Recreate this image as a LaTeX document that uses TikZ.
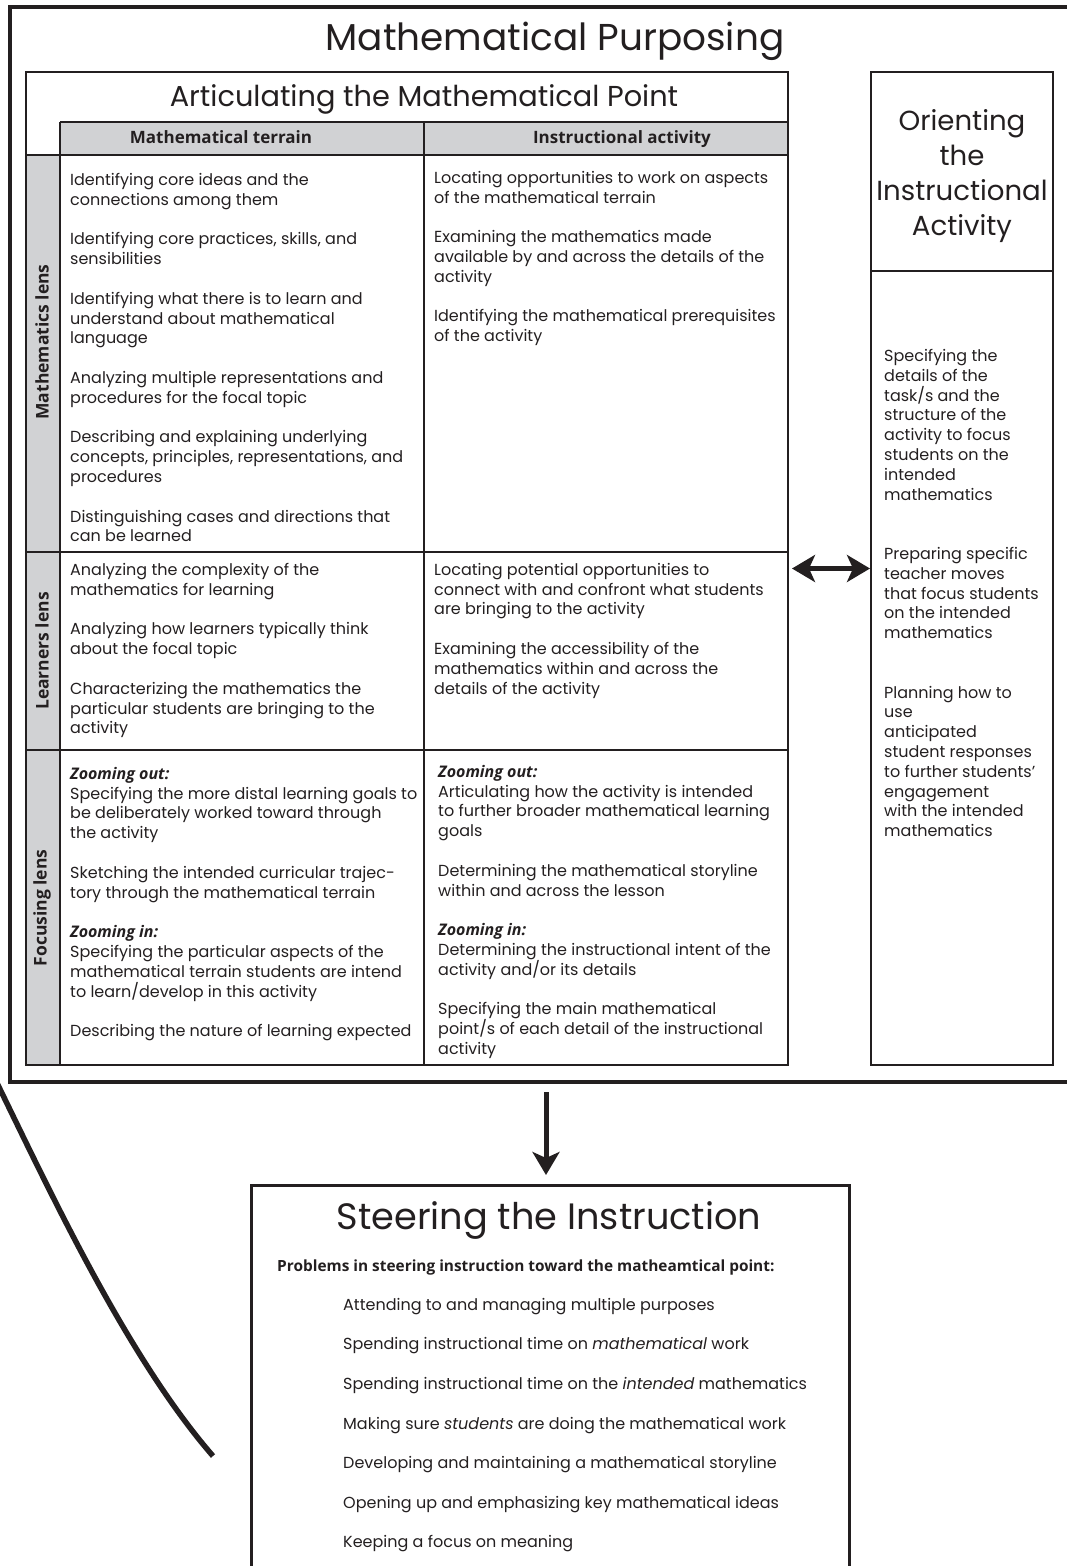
\documentclass[tikz,border=0pt]{standalone}
\usepackage{fontspec}
\setmainfont{Poppins}
\newfontfamily\hdfont{Open Sans}
\usetikzlibrary{arrows.meta}
\definecolor{cellgray}{HTML}{D1D2D4}
\definecolor{ink}{HTML}{231F20}
\newcommand\gp{\\[19.8pt]}
\newcommand\ggp{\\[39.6pt]}
\newcommand\zo[1]{{\hdfont\bfseries\itshape #1}}
\tikzset{bigtip/.tip={Stealth[length=23pt,width=27pt,inset=6pt]}}
\begin{document}
\begin{tikzpicture}[x=1pt,y=-1pt,
  every node/.style={text=ink},
  body/.style={anchor=north west, inner sep=0pt, align=left, font=\fontsize{16}{19.8}\selectfont},
  boxline/.style={draw=ink, line width=1.4pt},
  heavy/.style={draw=ink, line width=4pt},
  hdr/.style={font=\hdfont\bfseries\fontsize{17}{20}\selectfont, inner sep=0pt, anchor=base},
  lens/.style={font=\hdfont\bfseries\fontsize{17.5}{20}\selectfont, inner sep=0pt, rotate=90},
  big/.style={inner sep=0pt, align=center},
  arr/.style={draw=ink, line width=5pt}
]
\useasboundingbox (0,0) rectangle (1067,1566);
\clip (0,0) rectangle (1067,1566);

% outer frame
\node (frame) [heavy, minimum width=1062pt, minimum height=1075pt, inner sep=0pt, outer sep=0pt] at (541,544.5) {};
\node (title) [big, font=\fontsize{37.4}{40}\selectfont] at (555,41) {Mathematical Purposing};

% articulating table
\fill[cellgray] (60,122) rectangle (788,155);
\fill[cellgray] (26,155) rectangle (60,1065);
\node (art) [boxline, minimum width=762pt, minimum height=993pt, inner sep=0pt, outer sep=0pt] at (407,568.5) {};
\draw[boxline] (60,122) -- (788,122);
\draw[boxline] (26,155) -- (788,155);
\draw[boxline] (60,122) -- (60,1065);
\draw[boxline] (424,122) -- (424,1065);
\draw[boxline] (26,552) -- (788,552);
\draw[boxline] (26,750) -- (788,750);
\node (arttitle) [big, font=\fontsize{28.8}{32}\selectfont] at (424,99) {Articulating the Mathematical Point};
\node (hterrain) [hdr] at (221,143) {Mathematical terrain};
\node (hactivity) [hdr] at (622,143) {Instructional activity};
\node (lmath) [lens] at (42,342) {Mathematics lens};
\node (llearn) [lens] at (42,651) {Learners lens};
\node (lfocus) [lens] at (42,908) {Focusing lens};

\node (mterrain) [body] at (70,173) {Identifying core ideas and the\\
connections among them\gp
Identifying core practices, skills, and\\
sensibilities\gp
Identifying what there is to learn and\\
understand about mathematical\\
language\gp
Analyzing multiple representations and\\
procedures for the focal topic\gp
Describing and explaining underlying\\
concepts, principles, representations, and\\
procedures\gp
Distinguishing cases and directions that\\
can be learned};

\node (mactivity) [body] at (434,171) {Locating opportunities to work on aspects\\
of the mathematical terrain\gp
Examining the mathematics made\\
available by and across the details of the\\
activity\gp
Identifying the mathematical prerequisites\\
of the activity};

\node (lterrain) [body] at (70,563) {Analyzing the complexity of the\\
mathematics for learning\gp
Analyzing how learners typically think\\
about the focal topic\gp
Characterizing the mathematics the\\
particular students are bringing to the\\
activity};

\node (lactivity) [body] at (434,563) {Locating potential opportunities to\\
connect with and confront what students\\
are bringing to the activity\gp
Examining the accessibility of the\\
mathematics within and across the\\
details of the activity};

\node (fterrain) [body] at (70,767) {\zo{Zooming out:}\\
Specifying the more distal learning goals to\\
be deliberately worked toward through\\
the activity\gp
Sketching the intended curricular trajec-\\
tory through the mathematical terrain\gp
\zo{Zooming in:}\\
Specifying the particular aspects of the\\
mathematical terrain students are intend\\
to learn/develop in this activity\gp
Describing the nature of learning expected};

\node (factivity) [body] at (438,765) {\zo{Zooming out:}\\
Articulating how the activity is intended\\
to further broader mathematical learning\\
goals\gp
Determining the mathematical storyline\\
within and across the lesson\gp
\zo{Zooming in:}\\
Determining the instructional intent of the\\
activity and/or its details\gp
Specifying the main mathematical\\
point/s of each detail of the instructional\\
activity};

% orienting box
\node (orient) [boxline, minimum width=182pt, minimum height=993pt, inner sep=0pt, outer sep=0pt] at (962,568.5) {};
\draw[boxline] (871,271) -- (1053,271);
\node (orienttitle) [big, font=\fontsize{27.6}{35}\selectfont] at (962,176.5) {Orienting\\the\\Instructional\\Activity};
\node (orienttext) [body] at (884,349) {Specifying the\\
details of the\\
task/s and the\\
structure of the\\
activity to focus\\
students on the\\
intended\\
mathematics\ggp
Preparing specific\\
teacher moves\\
that focus students\\
on the intended\\
mathematics\ggp
Planning how to\\
use\\
anticipated\\
student responses\\
to further students'\\
engagement\\
with the intended\\
mathematics};

\draw[draw=ink, line width=4.5pt, bigtip-bigtip]
  ([xshift=4pt]art.east) -- ([xshift=-1pt]orient.west);

% steering box
\node (steer) [draw=ink, line width=3pt, minimum width=598pt, minimum height=435pt, inner sep=0pt, outer sep=0pt] at (550,1402.5) {};
\coordinate (arrtop) at (546,1092);
\draw[arr, -bigtip] (arrtop) -- ([yshift=10pt]steer.north -| arrtop);
\node (steertitle) [big, font=\fontsize{36.7}{40}\selectfont] at (549,1220) {Steering the Instruction};
\node (problems) [anchor=base west, inner sep=0pt, font=\hdfont\bfseries\fontsize{15.4}{18}\selectfont] at (277,1271) {Problems in steering instruction toward the matheamtical point:};
\node (plist) [body] at (343,1298) {Attending to and managing multiple purposes\gp
Spending instructional time on \textit{mathematical} work\gp
Spending instructional time on the \textit{intended} mathematics\gp
Making sure \textit{students} are doing the mathematical work\gp
Developing and maintaining a mathematical storyline\gp
Opening up and emphasizing key mathematical ideas\gp
Keeping a focus on meaning};

% sweeping curve
\draw[draw=ink, line width=5.5pt] (-3,1083) .. controls (47,1185) and (126,1356) .. (213,1456);
\end{tikzpicture}
\end{document}
